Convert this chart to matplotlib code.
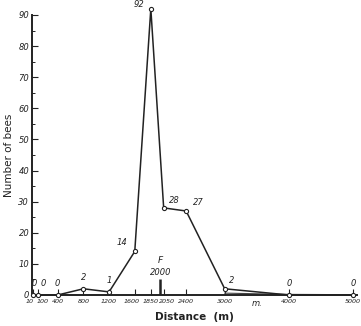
import matplotlib
matplotlib.use("Agg")
import matplotlib.pyplot as plt

distance = [10, 100, 400, 800, 1200, 1600, 1850, 2050, 2400, 3000, 4000, 5000]
bees = [0, 0, 0, 2, 1, 14, 92, 28, 27, 2, 0, 0]
xtick_labels = ["10", "100", "400", "800", "1200", "1600", "1850", "2050", "2400", "3000", "4000", "5000"]
feeder_distance = 2000
yticks_major = [0, 10, 20, 30, 40, 50, 60, 70, 80, 90]

narrow = ["Liberation Sans Narrow", "DejaVu Sans"]
ink = "#222222"

fig = plt.figure(figsize=(3.61, 3.26), dpi=100)
ax = fig.add_axes([32/361, 31/326, 325/361, 280/326])
ax.set_xlim(0, 5060)
ax.set_ylim(0, 90)

for s in ["top", "right"]:
    ax.spines[s].set_visible(False)
for s in ["left", "bottom"]:
    ax.spines[s].set_linewidth(1.4)
    ax.spines[s].set_color(ink)

ax.plot(distance, bees, color=ink, lw=1.1, marker="o", ms=3,
        mfc="white", mec=ink, mew=0.8, clip_on=False, zorder=3)
# faint second trace along the tail
ax.plot([3000, 4000, 5000], [0.6, 0.2, 0.1], color="#444444", lw=0.8, clip_on=False)

# data labels (offsets in points)
offsets = {0: (1.2, 5), 1: (3.2, 5), 2: (0, 5), 3: (0, 5), 4: (0, 5), 5: (-5, 3),
           6: (-5, 0), 7: (4, 2), 8: (5, 3), 9: (3, 3), 10: (0, 5), 11: (0, 5)}
for i, (x, y) in enumerate(zip(distance, bees)):
    dx, dy = offsets[i]
    ha = "center" if i in (0, 1) or dx == 0 else ("right" if dx < 0 else "left")
    ax.annotate(str(y), (x, y), xytext=(dx, dy), textcoords="offset points",
                ha=ha, va="bottom", fontsize=6, style="italic", color=ink,
                family=narrow, annotation_clip=False)

# feeder marker
ax.plot([feeder_distance, feeder_distance], [0, 5], color=ink, lw=1.8, solid_capstyle="butt")
ax.text(feeder_distance, 5.8, "2000", ha="center", va="bottom", fontsize=6, style="italic",
        color=ink, family=narrow)
ax.text(feeder_distance, 9.6, "F", ha="center", va="bottom", fontsize=6.5, style="italic",
        color=ink, family=narrow)

# x ticks with manually placed labels
ax.set_xticks(distance)
ax.set_xticklabels([])
xshift = {"10": -2.0, "100": 2.8, "1600": -2.2, "2050": 2.2}
for x, lab in zip(distance, xtick_labels):
    ax.annotate(lab, (x, 0), xycoords=("data", "axes fraction"),
                xytext=(xshift.get(lab, 0), -3), textcoords="offset points",
                ha="center", va="top", fontsize=4.6, style="italic", color=ink,
                family=narrow, annotation_clip=False)

ax.set_yticks(yticks_major)
ax.set_yticklabels([str(v) for v in yticks_major], fontsize=6, style="italic", family=narrow)
ax.set_yticks([5, 15, 25, 35, 45, 55, 65, 75, 85], minor=True)
ax.tick_params(axis="both", direction="in", length=4, width=0.8, colors=ink, pad=2)
ax.tick_params(axis="y", which="minor", direction="in", length=2.5, width=0.6)
ax.annotate("m.", (3500, 0), xycoords=("data", "axes fraction"), xytext=(0, -3),
            textcoords="offset points", ha="center", va="top", fontsize=6, style="italic",
            color=ink, family=narrow, annotation_clip=False)

ax.set_xlabel("Distance  (m)", fontsize=7.5, fontweight="bold", labelpad=10, color=ink)
ax.set_ylabel("Number of bees", fontsize=7.5, labelpad=3, color=ink)

fig.savefig("out.png", dpi=100, facecolor="white")
